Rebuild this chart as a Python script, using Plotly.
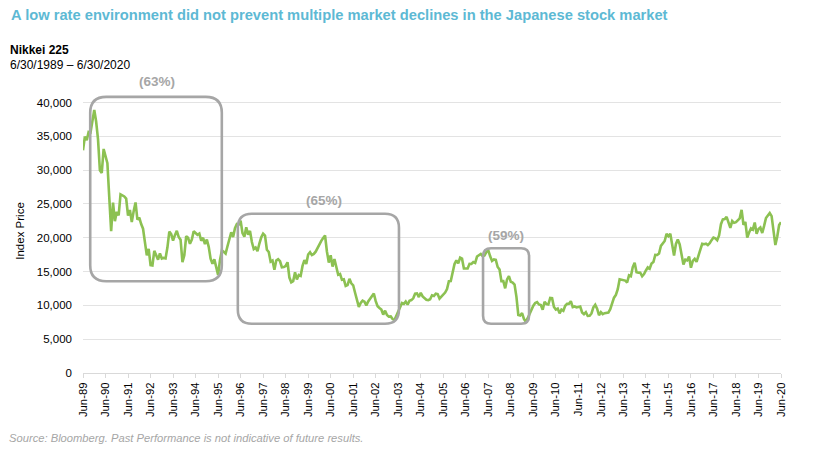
import plotly.graph_objects as go

# Nikkei 225 month-end closes, Jun-1989 .. Jun-2020
nikkei = [
    # 1989 Jun-Dec
    32948, 34954, 34431, 35637, 35549, 37269, 38916,
    # 1990
    37189, 34592, 29980, 29585, 33131, 31940, 31036, 25978, 20984, 25194, 22455, 23849,
    # 1991
    23293, 26409, 26292, 26111, 25790, 23291, 24121, 22336, 23916, 25222, 22687, 22984,
    # 1992
    22023, 21339, 19346, 17391, 18348, 15952, 15910, 18061, 17399, 16767, 17684, 16925,
    # 1993
    17024, 16953, 18591, 20919, 20552, 19590, 20380, 21027, 20106, 19704, 16408, 17417,
    # 1994
    20229, 19997, 19112, 19725, 20974, 20644, 20448, 20629, 19564, 19990, 19076, 19723,
    # 1995
    18650, 16916, 16140, 16807, 15437, 14517, 16678, 18117, 17913, 17655, 18744, 19868,
    # 1996
    20813, 20125, 21407, 22041, 21956, 22531, 20693, 20167, 21556, 20467, 21020, 19361,
    # 1997
    18330, 18557, 18003, 19151, 20069, 20605, 20331, 18229, 17888, 16459, 16636, 15259,
    # 1998
    16628, 16832, 16527, 15641, 15671, 15830, 16379, 14108, 13406, 13565, 14884, 13842,
    # 1999
    14499, 14368, 15837, 16702, 16112, 17530, 17862, 17437, 17606, 17942, 18558, 18934,
    # 2000
    19540, 19960, 20337, 17974, 16332, 17411, 15728, 16861, 15747, 14540, 14649, 13786,
    # 2001
    13844, 12884, 12999, 13934, 13262, 12969, 11861, 10714, 9775, 10367, 10697, 10543,
    # 2002
    9998, 10588, 11025, 11493, 11764, 10622, 9878, 9620, 9383, 8640, 9216, 8579,
    # 2003
    8340, 8363, 7973, 7831, 8425, 9083, 9563, 10344, 10219, 10560, 10101, 10677,
    # 2004
    10784, 11042, 11715, 11762, 11236, 11859, 11326, 11082, 10824, 10771, 10899, 11489,
    # 2005
    11388, 11741, 11669, 11009, 11277, 11584, 11900, 12414, 13574, 13607, 14872, 16111,
    # 2006
    16650, 16205, 17060, 16906, 15467, 15505, 15457, 16141, 16128, 16399, 16274, 17226,
    # 2007
    17383, 17604, 17288, 17400, 17876, 18138, 17249, 16569, 16786, 16737, 15681, 15308,
    # 2008
    13592, 13603, 12526, 13850, 14339, 13481, 13377, 13073, 11260, 8577, 8512, 8860,
    # 2009
    7994, 7568, 8110, 8828, 9523, 9958, 10357, 10493, 10133, 10035, 9346, 10546,
    # 2010
    10198, 10126, 11090, 11057, 9769, 9383, 9537, 8824, 9369, 9202, 9937, 10229,
    # 2011
    10238, 10624, 9755, 9850, 9694, 9816, 9833, 8955, 8700, 8988, 8435, 8455,
    # 2012
    8803, 9723, 10084, 9521, 8543, 9007, 8695, 8840, 8870, 8928, 9446, 10395,
    # 2013
    11139, 11559, 12398, 13861, 13775, 13677, 13668, 13389, 14456, 14328, 15662, 16291,
    # 2014
    14915, 14841, 14828, 14304, 14632, 15162, 15621, 15425, 16174, 16414, 17460, 17451,
    # 2015
    17674, 18798, 19207, 19520, 20563, 20236, 20585, 18890, 17388, 19083, 19747, 19034,
    # 2016
    17518, 16027, 16759, 16666, 17235, 15576, 16569, 16887, 16450, 17425, 18308, 19114,
    # 2017
    19041, 19119, 18909, 19197, 19651, 20033, 19925, 19646, 20356, 22012, 22725, 22765,
    # 2018
    23098, 22068, 21454, 22468, 22202, 22305, 22554, 22865, 24120, 21920, 22351, 20015,
    # 2019
    20773, 21385, 21206, 22259, 20601, 21276, 21522, 20704, 21756, 22927, 23294, 23657,
    # 2020 Jan-Jun
    23205, 21143, 18917, 20194, 21878, 22288,
]
months = list(range(len(nikkei)))  # month index from Jun-1989

tick_labels = ["Jun-%02d" % (y % 100) for y in range(1989, 2021)]
tick_positions = [12 * i for i in range(len(tick_labels))]

y_ticks = [0, 5000, 10000, 15000, 20000, 25000, 30000, 35000, 40000]

drawdown_labels = ["(63%)", "(65%)", "(59%)"]

# ---- layout geometry (pixels) ----
W_FIG, H_FIG = 833, 452
L, R = 83.3, 780.7
B = 373.3
YMAX = 42000
PX_PER_UNIT = (373.3 - 102.7) / 40000.0
T = B - YMAX * PX_PER_UNIT
PX_PER_MONTH = (R - L) / 372.0


def paper_x(xp):
    return (xp - L) / (R - L)


def paper_y(yp):
    return (B - yp) / (B - T)


def dx(xp):
    return (xp - L) / PX_PER_MONTH


def dy(yp):
    return (B - yp) / PX_PER_UNIT


def rounded_rect(x0p, y0p, x1p, y1p, r):
    rx = r / PX_PER_MONTH
    ry = r / PX_PER_UNIT
    x0, x1 = dx(x0p), dx(x1p)
    ytop, ybot = dy(y0p), dy(y1p)
    return (
        f"M {x0 + rx},{ytop} L {x1 - rx},{ytop} Q {x1},{ytop} {x1},{ytop - ry} "
        f"L {x1},{ybot + ry} Q {x1},{ybot} {x1 - rx},{ybot} "
        f"L {x0 + rx},{ybot} Q {x0},{ybot} {x0},{ybot + ry} "
        f"L {x0},{ytop - ry} Q {x0},{ytop} {x0 + rx},{ytop} Z"
    )


box_color = "#a6a6a6"
boxes = [
    (90.5, 97, 222, 281.5, 16),
    (238, 214, 399, 324, 14),
    (483, 248.5, 529, 324, 8),
]

FONT = "Liberation Sans, Arial, sans-serif"

fig = go.Figure()
fig.add_trace(
    go.Scatter(
        x=months,
        y=nikkei,
        mode="lines",
        line=dict(color="#8cc152", width=2.6),
        hoverinfo="skip",
        showlegend=False,
    )
)

shapes = []
for (x0, y0, x1, y1, r) in boxes:
    shapes.append(
        dict(
            type="path",
            xref="x",
            yref="y",
            path=rounded_rect(x0, y0, x1, y1, r),
            line=dict(color=box_color, width=2.6),
            fillcolor="rgba(0,0,0,0)",
            layer="above",
        )
    )

label_pos = [(157, 82), (324, 200.5), (506, 235.5)]
annotations = []
for txt, (xp, yp) in zip(drawdown_labels, label_pos):
    annotations.append(
        dict(
            text="<b>%s</b>" % txt, xref="paper", yref="paper",
            x=paper_x(xp), y=paper_y(yp),
            xanchor="center", yanchor="middle", showarrow=False,
            font=dict(family=FONT, size=13.5, color="#a6a6a6"),
        )
    )

annotations += [
    dict(
        text="<b>A low rate environment did not prevent multiple market declines in the Japanese stock market</b>",
        xref="paper", yref="paper", x=paper_x(9), y=paper_y(15),
        xanchor="left", yanchor="middle", showarrow=False,
        font=dict(family=FONT, size=14.7, color="#5db9d4"),
    ),
    dict(
        text="<b>Nikkei 225</b>",
        xref="paper", yref="paper", x=paper_x(8), y=paper_y(50.5),
        xanchor="left", yanchor="middle", showarrow=False,
        font=dict(family=FONT, size=12, color="#000000"),
    ),
    dict(
        text="6/30/1989 – 6/30/2020",
        xref="paper", yref="paper", x=paper_x(8), y=paper_y(65),
        xanchor="left", yanchor="middle", showarrow=False,
        font=dict(family=FONT, size=12, color="#000000"),
    ),
    dict(
        text="<i>Source: Bloomberg. Past Performance is not indicative of future results.</i>",
        xref="paper", yref="paper", x=paper_x(7), y=paper_y(438.5),
        xanchor="left", yanchor="middle", showarrow=False,
        font=dict(family=FONT, size=11.2, color="#a6a6a6"),
    ),
]

fig.update_layout(
    width=W_FIG,
    height=H_FIG,
    margin=dict(l=L, r=W_FIG - R, t=T, b=H_FIG - B, pad=0),
    paper_bgcolor="white",
    plot_bgcolor="white",
    shapes=shapes,
    annotations=annotations,
    font=dict(family=FONT, color="#000000"),
    xaxis=dict(
        range=[0, 372],
        tickvals=tick_positions,
        ticktext=tick_labels,
        tickangle=-90,
        tickfont=dict(size=11.3, color="#000000"),
        showgrid=False,
        zeroline=False,
        showline=True,
        linecolor="#d9d9d9",
        linewidth=1,
        ticks="outside",
        ticklen=4,
        tickcolor="#d9d9d9",
    ),
    yaxis=dict(
        range=[0, YMAX],
        tickvals=y_ticks,
        tickformat=",d",
        tickfont=dict(size=11.5, color="#000000"),
        showgrid=True,
        gridcolor="#e3e3e3",
        gridwidth=1,
        zeroline=False,
        showline=False,
        ticks="",
        ticklabelstandoff=10,
        title=dict(text="Index Price", font=dict(size=11.5, color="#000000"), standoff=9),
    ),
)

fig.write_html(
    "out.html",
    config={"displayModeBar": False},
    post_script="document.body.style.margin='0';document.body.style.padding='0';",
)
